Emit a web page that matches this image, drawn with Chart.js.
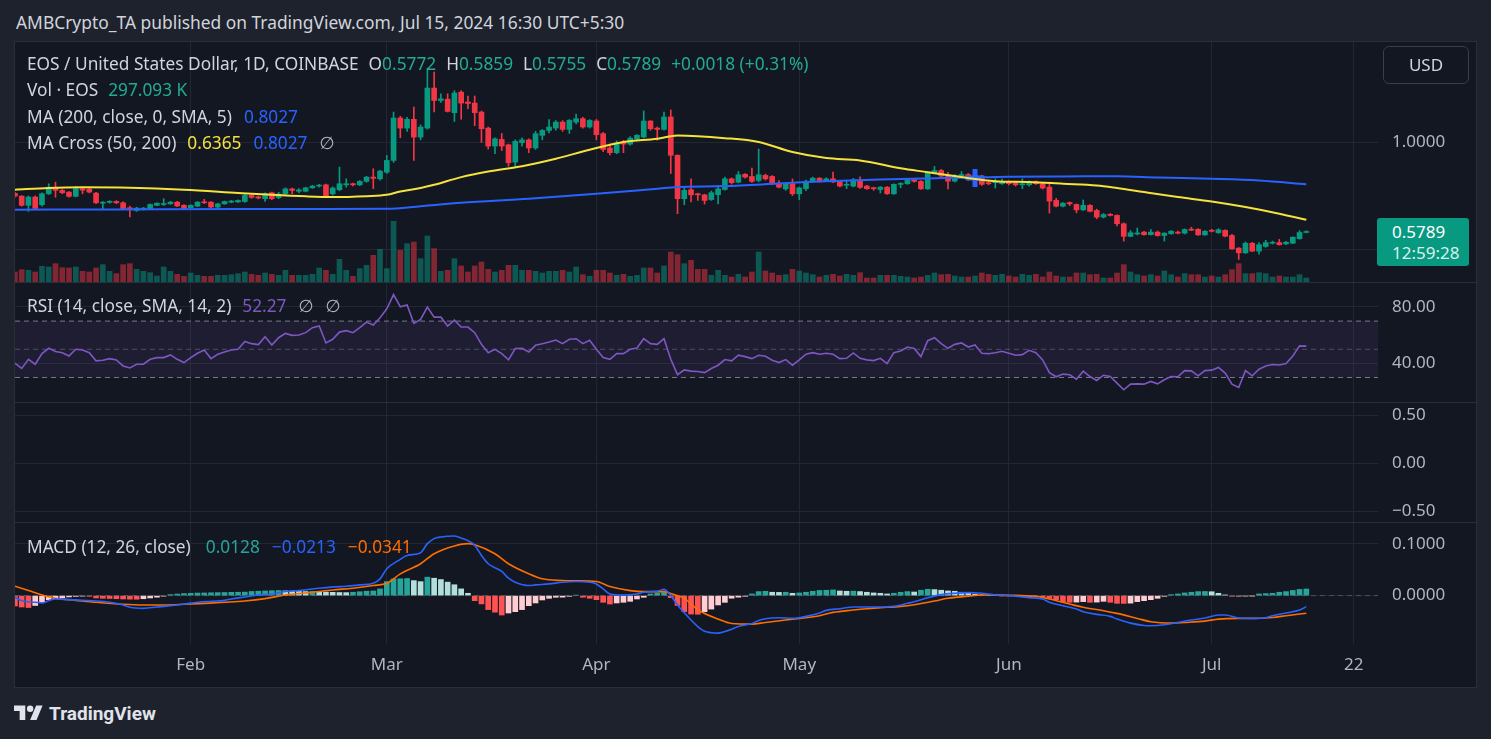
<!DOCTYPE html>
<html>
<head>
<meta charset="utf-8">
<title>EOS / United States Dollar</title>
<script src="https://cdn.jsdelivr.net/npm/chart.js@4.4.1/dist/chart.umd.min.js"></script>
<style>
  html, body { margin:0; padding:0; }
  body { width:1491px; height:739px; background:#1e222d; position:relative; overflow:hidden;
         font-family: "Noto Sans", Roboto, "DejaVu Sans", sans-serif; }
  #hdr { position:absolute; left:16px; top:11px; font-size:17.4px; line-height:22px; color:#d1d4dc; white-space:nowrap; }
  #frame { position:absolute; left:14px; top:41px; width:1463px; height:647px; box-sizing:border-box;
           border:1px solid #2a2e39; background:#131722; }
  canvas { position:absolute; left:15px; }
  .sep { position:absolute; left:15px; width:1461px; height:1px; background:#2a2e39; }
  .lg { position:absolute; left:27px; font-size:17.3px; line-height:20px; color:#d1d4dc; white-space:nowrap; }
  #usd { position:absolute; left:1383px; top:46px; width:86px; height:38px; box-sizing:border-box;
         border:1px solid #3a3e4a; border-radius:6px; color:#d1d4dc; font-size:17px; line-height:36px; text-align:center; }
  #last { position:absolute; left:1377px; width:92px; height:48px; background:#089981; border-radius:3px;
          color:#ffffff; font-size:17px; }
  #last div { position:absolute; left:15px; line-height:20px; }
  #foot { position:absolute; left:14px; top:702px; height:23px; color:#e0e3eb; }
  #foot svg { position:absolute; left:0; top:0; }
  #foot span { position:absolute; left:35px; top:0; font-family: Roboto, "Noto Sans", sans-serif; font-size:19px; line-height:23px; font-weight:bold; white-space:nowrap; }
</style>
</head>
<body>
<div id="hdr">AMBCrypto_TA published on TradingView.com, Jul 15, 2024 16:30 UTC+5:30</div>
<div id="frame"></div>
<canvas id="cPrice" width="1461" height="240" style="top:42px"></canvas>
<canvas id="cRsi" width="1461" height="119" style="top:283px"></canvas>
<canvas id="cEmpty" width="1461" height="119" style="top:403px"></canvas>
<canvas id="cMacd" width="1461" height="164" style="top:523px"></canvas>
<div class="sep" style="top:282px"></div>
<div class="sep" style="top:402px"></div>
<div class="sep" style="top:522px"></div>
<div id="usd">USD</div>
<div id="last"><div id="lastP" style="top:4px"></div><div id="lastT" style="top:25px;color:#d8f1ec">12:59:28</div></div>
<div id="foot">
  <svg width="29" height="23" viewBox="0 0 36 28"><path d="M14 22H7V11H0V4h14v18zM28 22h-8l7.5-18h8L28 22z" fill="#e0e3eb"/><circle cx="20" cy="8" r="4" fill="#e0e3eb"/></svg>
  <span>TradingView</span>
</div>
<script>
// ---------------- DATA (daily candles from 2024-01-06) ----------------
const firstDate = '2024-01-06';
const open = [
 .760,.747,.704,.743,.707,.758,.789,.774,.766,.746,
 .782,.780,.761,.714,.718,.722,.716,.692,.680,.685,
 .688,.704,.708,.711,.719,.704,.693,.700,.720,.719,
 .696,.711,.719,.720,.722,.750,.744,.735,.763,.740,
 .758,.781,.770,.770,.786,.794,.800,.758,.777,.800,
 .805,.800,.816,.836,.828,.859,.914,1.112,1.065,1.106,
 1.023,1.065,1.252,1.194,1.200,1.137,1.233,1.187,1.182,1.140,
 1.065,.981,1.012,.987,.906,.997,1.010,.972,1.031,1.054,
 1.065,1.093,1.059,1.093,1.109,1.070,1.098,1.039,.972,.950,
 .998,.990,1.015,1.023,1.098,1.065,1.059,1.117,.938,.735,
 .777,.758,.753,.731,.754,.778,.828,.812,.849,.839,
 .820,.844,.839,.808,.781,.805,.758,.782,.817,.831,
 .818,.828,.816,.798,.794,.817,.794,.786,.778,.789,
 .758,.802,.805,.824,.816,.781,.855,.867,.844,.817,
 .840,.848,.830,.841,.810,.810,.805,.816,.808,.800,
 .800,.816,.805,.789,.727,.700,.717,.708,.683,.704,
 .680,.649,.662,.657,.618,.559,.570,.579,.567,.579,
 .563,.571,.579,.574,.592,.592,.566,.586,.576,.587,
 .563,.504,.482,.527,.490,.512,.527,.530,.524,.527,
 .548,.5772];
const high = [
 .765,.750,.748,.748,.762,.805,.812,.778,.768,.792,
 .786,.786,.765,.722,.726,.726,.720,.700,.695,.694,
 .711,.716,.735,.723,.723,.707,.707,.722,.732,.722,
 .713,.724,.727,.730,.755,.754,.748,.762,.766,.765,
 .786,.785,.782,.789,.798,.802,.803,.790,.883,.828,
 .808,.820,.840,.875,.868,.937,1.140,1.120,1.115,1.163,
 1.080,1.345,1.327,1.225,1.225,1.240,1.240,1.215,1.215,1.145,
 1.070,1.020,1.040,.990,1.010,1.020,1.015,1.050,1.058,1.105,
 1.100,1.100,1.105,1.130,1.115,1.105,1.105,1.045,.990,1.005,
 1.008,1.025,1.035,1.145,1.100,1.070,1.140,1.150,.940,.789,
 .828,.761,.756,.771,.797,.836,.832,.862,.853,.878,
 .967,.850,.843,.820,.808,.827,.789,.822,.836,.834,
 .833,.860,.820,.816,.830,.837,.797,.789,.792,.792,
 .805,.810,.830,.827,.820,.858,.886,.872,.858,.848,
 .862,.853,.850,.845,.815,.828,.827,.818,.816,.828,
 .819,.819,.808,.805,.737,.717,.720,.711,.729,.707,
 .686,.666,.666,.660,.622,.586,.598,.583,.591,.584,
 .576,.586,.584,.594,.602,.596,.586,.592,.595,.590,
 .568,.507,.533,.531,.530,.541,.537,.545,.536,.557,
 .586,.5859];
const low = [
 .742,.700,.676,.685,.700,.755,.742,.758,.742,.744,
 .758,.762,.712,.688,.714,.712,.684,.650,.676,.682,
 .686,.702,.703,.709,.698,.684,.690,.698,.712,.693,
 .693,.709,.716,.718,.718,.737,.734,.722,.731,.735,
 .755,.758,.762,.767,.783,.789,.741,.752,.772,.789,
 .795,.796,.812,.782,.822,.853,.905,1.020,1.050,.914,
 1.010,1.060,1.140,1.185,1.140,1.096,1.106,1.156,1.076,.998,
 .967,.946,.960,.887,.885,.980,.950,.965,1.010,1.043,
 1.055,1.050,1.040,1.085,1.065,1.065,1.010,.955,.940,.945,
 .950,.985,1.010,1.020,1.055,1.008,1.055,.853,.665,.707,
 .720,.727,.710,.727,.711,.775,.803,.809,.831,.811,
 .814,.822,.800,.786,.774,.750,.730,.772,.812,.812,
 .815,.810,.790,.782,.790,.783,.779,.774,.762,.755,
 .755,.786,.802,.812,.778,.778,.852,.836,.781,.813,
 .838,.821,.826,.797,.800,.785,.802,.800,.794,.782,
 .794,.802,.780,.668,.697,.697,.703,.669,.680,.673,
 .641,.645,.654,.608,.537,.557,.566,.565,.565,.560,
 .537,.569,.571,.570,.586,.564,.563,.580,.573,.557,
 .498,.451,.479,.488,.476,.508,.523,.518,.520,.525,
 .546,.5755];
const close = [
 .747,.704,.743,.690,.758,.789,.774,.763,.746,.782,
 .775,.766,.716,.718,.722,.716,.688,.688,.691,.691,
 .708,.714,.712,.719,.701,.688,.704,.719,.716,.696,
 .711,.722,.724,.727,.750,.741,.738,.758,.735,.757,
 .781,.774,.776,.786,.794,.797,.747,.785,.805,.805,
 .800,.816,.836,.830,.864,.914,1.112,1.065,1.106,1.023,
 1.070,1.252,1.194,1.202,1.143,1.229,1.182,1.180,1.137,1.062,
 .981,1.015,.981,.903,1.003,1.010,.972,1.039,1.054,1.070,
 1.093,1.059,1.101,1.109,1.070,1.101,1.034,.965,.950,.995,
 .990,1.018,1.031,1.098,1.062,1.059,1.117,.938,.735,.774,
 .753,.753,.727,.763,.781,.828,.810,.847,.836,.816,
 .847,.828,.805,.789,.805,.758,.786,.817,.831,.816,
 .828,.813,.794,.800,.823,.788,.782,.782,.789,.758,
 .802,.806,.824,.816,.781,.855,.867,.841,.817,.844,
 .848,.825,.844,.802,.805,.813,.816,.805,.800,.805,
 .816,.805,.785,.724,.700,.714,.711,.683,.704,.676,
 .649,.661,.657,.618,.559,.576,.575,.567,.579,.563,
 .574,.583,.574,.591,.588,.566,.583,.583,.590,.560,
 .501,.482,.527,.490,.520,.530,.530,.520,.532,.555,
 .5771,.5789];
const volumeK = [
 750,925,875,750,1175,1125,1375,1075,1050,1125,
 800,750,1050,1300,800,625,1300,1375,950,800,
 700,450,1125,800,575,425,675,500,425,425,
 500,500,550,625,750,575,500,675,575,500,
 875,500,500,500,575,1050,875,575,1700,875,
 425,1000,1250,2000,2450,1000,4550,2375,2875,3000,
 1750,3450,2500,800,875,1750,1200,750,1200,1500,
 950,750,875,1250,1250,875,875,800,675,800,
 800,875,750,1125,550,425,875,875,675,500,
 575,425,500,1050,1050,675,1200,2250,2050,1375,
 1625,950,950,500,875,500,375,575,375,750,
 2250,825,675,500,550,950,825,675,550,375,
 500,575,450,575,500,700,300,300,500,500,
 500,425,375,300,375,500,675,550,575,450,
 375,375,450,675,575,500,575,450,375,575,
 500,575,375,750,450,375,375,675,675,550,
 575,300,300,675,1300,750,550,450,550,450,
 825,550,375,625,550,550,375,450,375,550,
 925,1375,625,625,700,625,375,450,375,375,
 550,297.093];

// Moving averages (day of year 2024, 0 = Jan 1)
const ma50Day = [5,10,15,22,30,38,43,48,52,57,60,62,65,67,71,75,80,85,90,95,100,103,110,115,120,125,130,136,140,145,150,155,160,165,168,172,177,182,187,192,196];
const ma50 = [.777,.785,.788,.786,.777,.762,.753,.746,.743,.747,.753,.769,.785,.800,.836,.862,.887,.922,.964,1.0,1.015,1.03,1.018,1.0,.953,.925,.914,.877,.859,.836,.817,.813,.805,.797,.785,.766,.743,.722,.696,.665,.6365];
const ma200Day = [5,20,38,50,60,65,71,81,91,100,103,110,118,125,133,140,145,152,160,168,174,182,189,196];
const ma200 = [.684,.685,.687,.687,.688,.700,.716,.735,.758,.782,.790,.794,.806,.817,.825,.830,.833,.838,.839,.840,.834,.828,.820,.8027];
const crossDay = [147];
const crossValue = [.832];

// RSI (14) per candle
const rsi = [
 40.1,36.4,42.9,39.4,46.9,50.7,48.4,47.6,45.3,50.0,
 49.5,47.6,41.8,42.2,43.4,42.5,38.2,36.8,39.4,39.4,
 42.9,44.1,44.1,46.0,42.9,40.6,44.1,47.2,49.5,43.4,
 46.5,48.1,49.5,50.0,55.6,54.0,53.3,58.9,53.1,58.2,
 61.3,59.9,60.1,61.8,65.3,66.5,54.5,57.1,62.2,63.2,
 61.8,65.3,69.3,67.2,72.4,78.7,88.8,80.1,81.5,68.4,
 71.2,79.9,72.8,72.8,66.5,70.7,65.8,65.8,61.8,53.5,
 47.6,50.0,46.9,42.5,50.5,50.7,48.1,52.8,54.0,55.2,
 56.6,54.0,57.1,57.5,54.0,56.4,50.0,44.1,42.9,46.9,
 46.9,50.0,50.9,57.5,54.0,53.5,57.5,42.9,32.0,35.4,
 34.5,34.2,33.5,36.4,38.7,42.7,41.8,45.8,44.8,43.4,
 45.8,45.1,42.2,40.6,42.7,38.7,42.5,46.5,47.6,46.5,
 47.2,46.5,43.4,43.6,47.4,43.6,42.5,42.0,43.6,39.9,
 47.6,48.8,51.6,50.5,44.8,56.1,58.2,54.0,50.7,53.5,
 54.5,51.6,53.1,47.2,46.9,47.6,48.6,47.2,45.8,46.2,
 49.3,47.6,42.5,33.5,30.5,32.4,31.9,28.8,34.5,30.7,
 27.9,31.6,30.7,26.0,21.3,25.3,25.5,25.3,27.2,25.5,
 28.4,30.7,30.5,34.9,34.7,31.2,34.9,35.2,37.1,33.1,
 25.3,22.9,34.9,31.2,35.9,38.2,39.2,38.9,39.9,45.3,
 52.4,52.27];
const rsiBands = [70, 50, 30];

// MACD (12, 26, close)
const macdDay = [5,6,8,9,10,11,13,15,17,19,21,22,24,26,28,30,32,34,36,37,39,41,43,45,47,49,51,52,54,56,58,59,60,62,63,65,66,67,68,70,71,73,74,75,77,78,79,81,82,84,86,88,90,91,92,93,95,97,98,100,101,102,103,104,105,106,107,109,110,111,112,114,115,116,118,120,122,124,125,127,129,131,133,135,137,138,140,142,144,146,148,150,152,154,155,157,158,160,162,163,165,167,168,170,172,173,175,177,179,181,183,184,186,188,190,191,193,195,196];
const macd = [-.0032,-.0097,-.0129,-.0142,-.0097,-.0065,-.0078,-.0091,-.0104,-.0129,-.0181,-.0226,-.0246,-.0220,-.0194,-.0162,-.0129,-.0110,-.0091,-.0065,-.0026,.0013,.0032,.0078,.0097,.0129,.0155,.0168,.0181,.0207,.0239,.0324,.0518,.0699,.0776,.0828,.1003,.1100,.1132,.1152,.1113,.0971,.0776,.0615,.0466,.0336,.0259,.0194,.0207,.0226,.0259,.0272,.0259,.0226,.0129,.0032,.0013,.0032,.0065,.0084,.0120,.0000,-.0180,-.0330,-.0470,-.0600,-.0690,-.0725,-.0692,-.0647,-.0595,-.0537,-.0479,-.0446,-.0427,-.0440,-.0401,-.0336,-.0285,-.0252,-.0220,-.0220,-.0220,-.0207,-.0149,-.0120,-.0040,.0019,.0045,.0058,.0045,.0013,.0000,-.0026,-.0039,-.0065,-.0129,-.0194,-.0259,-.0311,-.0362,-.0401,-.0453,-.0531,-.0576,-.0582,-.0563,-.0518,-.0472,-.0433,-.0375,-.0375,-.0433,-.0440,-.0427,-.0388,-.0336,-.0278,-.0213];
const signalDay = [5,7,9,11,14,17,21,24,27,30,33,36,39,42,45,49,52,55,58,60,62,65,67,70,72,73,76,78,81,83,86,88,91,93,96,98,101,102,104,106,109,111,114,116,119,121,124,126,129,131,133,136,138,141,143,146,148,151,153,156,158,161,163,166,168,171,173,176,178,181,183,186,188,191,193,196];
const signal = [.0181,.0097,.0013,-.0052,-.0091,-.0129,-.0168,-.0181,-.0181,-.0168,-.0149,-.0129,-.0104,-.0058,.0013,.0065,.0110,.0142,.0194,.0239,.0421,.0615,.0809,.0958,.1003,.0983,.0809,.0615,.0421,.0324,.0291,.0285,.0272,.0175,.0097,.0078,.0078,.0040,-.0052,-.0272,-.0453,-.0537,-.0550,-.0518,-.0472,-.0440,-.0388,-.0324,-.0278,-.0252,-.0233,-.0207,-.0175,-.0104,-.0052,-.0013,.0013,.0013,.0006,-.0013,-.0065,-.0162,-.0226,-.0291,-.0343,-.0440,-.0505,-.0531,-.0518,-.0492,-.0453,-.0440,-.0440,-.0421,-.0388,-.0341];
const hist = [
 -.0200,-.0220,-.0230,-.0190,-.0130,-.0080,-.0055,-.0040,-.0025,-.0015,
 -.0010,-.0013,-.0045,-.0052,-.0055,-.0060,-.0065,-.0068,-.0070,-.0060,
 -.0045,-.0030,-.0010,.0020,.0030,.0040,.0045,.0050,.0052,.0055,
 .0058,.0060,.0063,.0065,.0068,.0080,.0085,.0090,.0095,.0098,
 .0092,.0088,.0085,.0078,.0082,.0075,.0068,.0063,.0060,.0058,
 .0065,.0075,.0085,.0090,.0130,.0270,.0320,.0325,.0330,.0290,
 .0270,.0356,.0336,.0310,.0260,.0210,.0130,.0045,-.0097,-.0160,
 -.0270,-.0320,-.0375,-.0336,-.0310,-.0270,-.0194,-.0142,-.0084,-.0052,
 -.0032,-.0030,-.0013,.0010,-.0032,-.0052,-.0078,-.0129,-.0162,-.0142,
 -.0129,-.0110,-.0065,-.0032,.0032,.0052,.0060,-.0040,-.0190,-.0310,
 -.0356,-.0360,-.0310,-.0260,-.0180,-.0130,-.0050,-.0030,-.0013,.0032,
 .0078,.0084,.0065,.0062,.0065,.0045,.0052,.0065,.0084,.0100,
 .0104,.0110,.0090,.0084,.0086,.0078,.0065,.0052,.0045,.0032,
 .0045,.0065,.0078,.0070,.0104,.0123,.0116,.0104,.0090,.0084,
 .0065,.0045,.0026,.0015,.0008,.0003,-.0005,-.0010,-.0015,-.0020,
 -.0025,-.0028,-.0032,-.0052,-.0078,-.0116,-.0129,-.0125,-.0116,-.0129,
 -.0125,-.0110,-.0129,-.0149,-.0150,-.0145,-.0116,-.0097,-.0078,-.0052,
 -.0013,.0019,.0032,.0052,.0065,.0078,.0080,.0075,.0045,.0013,
 -.0013,-.0010,-.0008,-.0006,.0032,.0039,.0045,.0065,.0078,.0100,
 .0120,.0128];

// Axis ticks
const tickDates = ['2024-02-01','2024-03-01','2024-04-01','2024-05-01','2024-06-01','2024-07-01','2024-07-22'];
const tickLabels = ['Feb','Mar','Apr','May','Jun','Jul','22'];
const priceTicks = [0.5, 1.0];
const rsiTicks = [40, 80];
const emptyTicks = [-0.5, 0, 0.5];
const macdTicks = [0, 0.1];

// ---------------- VIEW ----------------
const X_MIN = 5.01, X_MAX = 206.6;           // visible day window
const P_MIN = 0.3458, P_MAX = 1.4673;        // price pane range
const VOL_MAX = 18000;                        // volume overlay range
const R_MIN = 12.62, R_MAX = 97.02;
const E_MIN = -0.611, E_MAX = 0.628;
const M_MIN = -0.0934, M_MAX = 0.1402;
const AXIS_W = 98;

const UP = '#089981', DOWN = '#f23645';
const GRID = '#232733';
const TXT = '#b2b5be';
const FONT = { family: '"Noto Sans", Roboto, sans-serif', size: 17 };

const dayOf = s => Math.round((Date.parse(s) - Date.parse('2024-01-01')) / 864e5);
const start = dayOf(firstDate);
const days = close.map((_, i) => start + i);
const tickDays = tickDates.map(dayOf);
const up = close.map((c, i) => c >= open[i]);
const pts = (xs, ys) => xs.map((x, i) => ({ x, y: ys[i] }));
const hline = v => [{ x: X_MIN, y: v }, { x: X_MAX, y: v }];
const minus = s => s.replace('-', '\u2212');

Chart.defaults.font.family = FONT.family;
Chart.defaults.elements.point.hoverRadius = 0;

function xAxis(h, show) {
  return {
    type: 'linear', min: X_MIN, max: X_MAX, offset: false,
    afterBuildTicks: s => { s.ticks = tickDays.map(v => ({ value: v })); },
    afterFit: s => { s.height = h; s.paddingLeft = 0; s.paddingRight = 0; },
    grid: { color: GRID, drawTicks: false, offset: false },
    border: { display: false },
    ticks: { display: show, color: TXT, font: FONT, padding: 11, maxRotation: 0, autoSkip: false,
      callback: v => { const i = tickDays.indexOf(v); return i >= 0 ? tickLabels[i] : ''; } }
  };
}
function yAxis(min, max, ticks, fmt) {
  return {
    type: 'linear', position: 'right', min, max,
    afterBuildTicks: s => { s.ticks = ticks.map(v => ({ value: v })); },
    afterFit: s => { s.width = AXIS_W; s.paddingTop = 0; s.paddingBottom = 0; },
    grid: { color: GRID, drawTicks: false },
    border: { display: false },
    ticks: { color: TXT, font: FONT, padding: 14, callback: fmt }
  };
}
const baseOpts = {
  responsive: false, animation: false, events: [],
  layout: { padding: 0, autoPadding: false },
  plugins: { legend: { display: false }, tooltip: { enabled: false } }
};

// ---- Price pane ----
const priceChart = new Chart(document.getElementById('cPrice'), {
  type: 'bar',
  data: { datasets: [
    { type: 'line', data: pts(ma50Day, ma50), borderColor: '#f5e23c', borderWidth: 2, pointRadius: 0,
      cubicInterpolationMode: 'monotone', order: 0 },
    { type: 'line', data: pts(ma200Day, ma200), borderColor: '#2962ff', borderWidth: 2, pointRadius: 0,
      cubicInterpolationMode: 'monotone', order: 0 },
    { type: 'line', data: pts(crossDay, crossValue), showLine: false, pointStyle: 'cross', pointRadius: 9,
      pointBorderWidth: 5, pointBorderColor: '#2962ff', order: 1 },
    { type: 'bar', data: days.map((d, i) => ({ x: d, y: [open[i], close[i]] })),
      backgroundColor: c => up[c.dataIndex] ? UP : DOWN, barThickness: 5, maxBarThickness: 5,
      minBarLength: 1, grouped: false, order: 2 },
    { type: 'bar', data: days.map((d, i) => ({ x: d, y: [low[i], high[i]] })),
      backgroundColor: c => up[c.dataIndex] ? UP : DOWN, barThickness: 1, maxBarThickness: 1,
      grouped: false, order: 3 },
    { type: 'bar', yAxisID: 'vol', data: pts(days, volumeK),
      backgroundColor: c => up[c.dataIndex] ? 'rgba(8,153,129,0.5)' : 'rgba(242,54,69,0.5)',
      barThickness: 5, maxBarThickness: 5, grouped: false, order: 4 }
  ] },
  options: Object.assign({}, baseOpts, { scales: {
    x: xAxis(0, false),
    y: yAxis(P_MIN, P_MAX, priceTicks, v => v.toFixed(4)),
    vol: { type: 'linear', axis: 'y', position: 'left', display: true, min: 0, max: VOL_MAX,
      grid: { display: false }, border: { display: false }, ticks: { display: false },
      afterFit: s => { s.width = 0; s.paddingTop = 0; s.paddingBottom = 0; } }
  } })
});

// ---- RSI pane ----
new Chart(document.getElementById('cRsi'), {
  type: 'line',
  data: { datasets: [
    { data: pts(days, rsi), borderColor: '#7e57c2', borderWidth: 1.6, pointRadius: 0, order: 0 },
    { data: hline(rsiBands[0]), borderColor: '#787b86', borderWidth: 1, borderDash: [5, 4], pointRadius: 0, order: 3 },
    { data: hline(rsiBands[1]), borderColor: 'rgba(120,123,134,0.55)', borderWidth: 1, borderDash: [5, 4], pointRadius: 0, order: 2 },
    { data: hline(rsiBands[2]), borderColor: '#787b86', borderWidth: 1, borderDash: [5, 4], pointRadius: 0, order: 1,
      fill: 1, backgroundColor: 'rgba(126,87,194,0.1)' }
  ] },
  options: Object.assign({}, baseOpts, { scales: {
    x: xAxis(0, false),
    y: yAxis(R_MIN, R_MAX, rsiTicks, v => v.toFixed(2))
  } })
});

// ---- Empty indicator pane ----
new Chart(document.getElementById('cEmpty'), {
  type: 'line',
  data: { datasets: [{ data: [] }] },
  options: Object.assign({}, baseOpts, { scales: {
    x: xAxis(0, false),
    y: yAxis(E_MIN, E_MAX, emptyTicks, v => minus(v.toFixed(2)))
  } })
});

// ---- MACD pane ----
const histColor = i => {
  const h = hist[i], p = i > 0 ? hist[i - 1] : h;
  return h >= 0 ? (h > p ? '#26a69a' : '#b2dfdb') : (h > p ? '#ffcdd2' : '#ff5252');
};
new Chart(document.getElementById('cMacd'), {
  type: 'bar',
  data: { datasets: [
    { type: 'line', data: pts(macdDay, macd), borderColor: '#2962ff', borderWidth: 1.6, pointRadius: 0,
      cubicInterpolationMode: 'monotone', order: 0 },
    { type: 'line', data: pts(signalDay, signal), borderColor: '#ff6d00', borderWidth: 1.6, pointRadius: 0,
      cubicInterpolationMode: 'monotone', order: 0 },
    { type: 'line', data: hline(0), borderColor: 'rgba(120,123,134,0.5)', borderWidth: 1, borderDash: [5, 4],
      pointRadius: 0, order: 1 },
    { type: 'bar', data: pts(days, hist), backgroundColor: c => histColor(c.dataIndex),
      barThickness: 5, maxBarThickness: 5, grouped: false, order: 2 }
  ] },
  options: Object.assign({}, baseOpts, { scales: {
    x: xAxis(43, true),
    y: yAxis(M_MIN, M_MAX, macdTicks, v => v.toFixed(4))
  } })
});

// ---- Last price label ----
const n = close.length - 1;
document.getElementById('lastP').textContent = close[n].toFixed(4);
const lastY = priceChart.scales.y.getPixelForValue(close[n]);
document.getElementById('last').style.top = (42 + lastY - 14) + 'px';

// ---- Legends ----
const LBL = '#d1d4dc', GREEN = '#22ab94';
function legend(top, parts) {
  const d = document.createElement('div');
  d.className = 'lg'; d.style.top = top + 'px';
  parts.forEach(([t, c, g]) => {
    const s = document.createElement('span');
    s.textContent = t; s.style.color = c;
    if (g) s.style.marginLeft = g + 'px';
    d.appendChild(s);
  });
  document.body.appendChild(d);
}
const chg = close[n] - close[n - 1];
legend(54, [
  ['EOS / United States Dollar, 1D, COINBASE', LBL, 0],
  ['O', LBL, 10], [open[n].toFixed(4), GREEN, 0],
  ['H', LBL, 10], [high[n].toFixed(4), GREEN, 0],
  ['L', LBL, 10], [low[n].toFixed(4), GREEN, 0],
  ['C', LBL, 10], [close[n].toFixed(4), GREEN, 0],
  [(chg >= 0 ? '+' : '') + chg.toFixed(4) + ' (' + (chg >= 0 ? '+' : '') + (chg / close[n - 1] * 100).toFixed(2) + '%)', GREEN, 10]
]);
legend(80, [['Vol \u00b7 EOS', LBL, 0], [volumeK[n].toFixed(3) + ' K', GREEN, 10]]);
legend(107, [['MA (200, close, 0, SMA, 5)', LBL, 0], [ma200[ma200.length - 1].toFixed(4), '#2962ff', 12]]);
legend(133, [['MA Cross (50, 200)', LBL, 0], [ma50[ma50.length - 1].toFixed(4), '#f5e23c', 11],
             [ma200[ma200.length - 1].toFixed(4), '#2962ff', 12], ['\u2205', TXT, 12]]);
legend(296, [['RSI (14, close, SMA, 14, 2)', LBL, 0], [rsi[n].toFixed(2), '#7e57c2', 11],
             ['\u2205', TXT, 12], ['\u2205', TXT, 12]]);
legend(537, [['MACD (12, 26, close)', LBL, 0], [hist[n].toFixed(4), '#26a69a', 15],
             [minus(macd[macd.length - 1].toFixed(4)), '#2962ff', 12],
             [minus(signal[signal.length - 1].toFixed(4)), '#ff6d00', 12]]);
</script>
</body>
</html>
